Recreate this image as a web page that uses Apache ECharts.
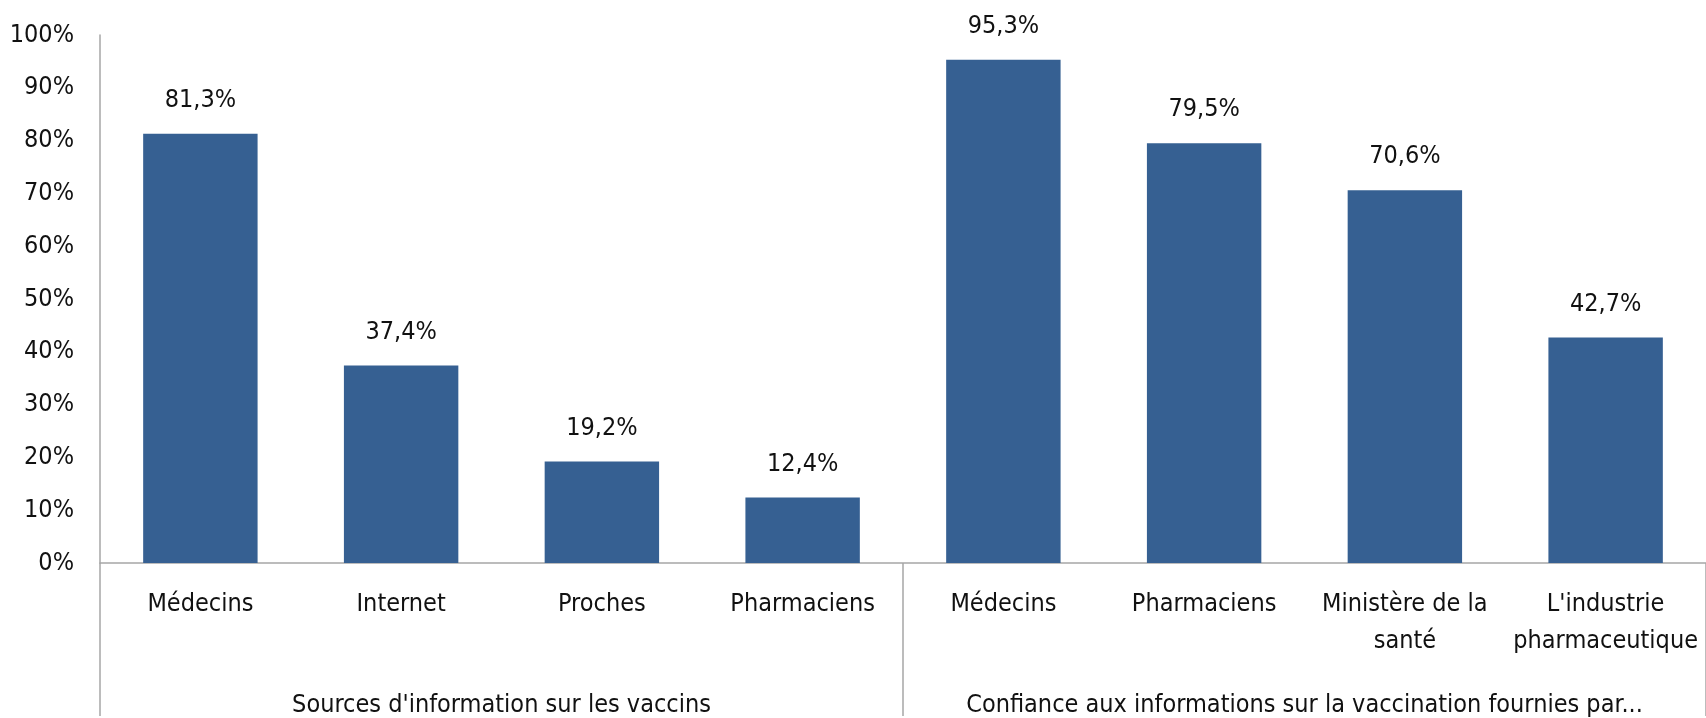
<!DOCTYPE html>
<html>
<head>
<meta charset="utf-8">
<script src="https://cdn.jsdelivr.net/npm/echarts@6/dist/echarts.min.js"></script>
<style>
  html, body { margin: 0; padding: 0; background: #fff; }
  #chart { width: 1706px; height: 718px; }
</style>
</head>
<body>
<div id="chart"></div>
<script>
// categories (two groups of four)
const categories = ['Médecins', 'Internet', 'Proches', 'Pharmaciens',
    'Médecins', 'Pharmaciens', 'Ministère de la\nsanté', "L'industrie\npharmaceutique"];
const groups = ["Sources d'information sur les vaccins",
    'Confiance aux informations sur la vaccination fournies par...'];
// percentages
const values = [81.3, 37.4, 19.2, 12.4, 95.3, 79.5, 70.6, 42.7];

const font = '"DejaVu Sans Condensed", "Liberation Sans", sans-serif';
const fontSize = 25;
const textColor = '#111';
const lineColor = '#a6a6a6';

const chart = echarts.init(document.getElementById('chart'));
chart.setOption({
    animation: false,
    grid: { left: 100, right: 0, top: 35, bottom: 153 },
    xAxis: [
        {
            type: 'category',
            data: categories,
            axisLine: { show: true, lineStyle: { color: lineColor, width: 1.5 } },
            axisTick: { show: false },
            axisLabel: {
                interval: 0, margin: 23, fontSize: fontSize, lineHeight: 37,
                fontFamily: font, color: textColor
            }
        },
        {
            // group labels + separators
            type: 'category',
            data: groups,
            position: 'bottom',
            offset: 153,
            axisLine: { show: false },
            axisTick: { show: true, inside: true, length: 153, lineStyle: { color: lineColor, width: 1.5 } },
            axisLabel: {
                inside: true, interval: 0, margin: -2, fontSize: fontSize,
                fontFamily: font, color: textColor
            }
        }
    ],
    yAxis: {
        type: 'value',
        min: 0, max: 100, interval: 10,
        splitLine: { show: false },
        axisLine: { show: true, lineStyle: { color: lineColor, width: 1.5 } },
        axisTick: { show: false },
        axisLabel: {
            margin: 26, fontSize: fontSize, fontFamily: font, color: textColor,
            formatter: '{value}%'
        }
    },
    series: [{
        type: 'bar',
        data: values,
        barWidth: '57%',
        itemStyle: { color: '#366092' },
        label: {
            show: true, position: 'top', distance: 21,
            fontSize: fontSize, fontFamily: font, color: textColor,
            formatter: p => p.value.toFixed(1).replace('.', ',') + '%'
        }
    }]
});
</script>
</body>
</html>
